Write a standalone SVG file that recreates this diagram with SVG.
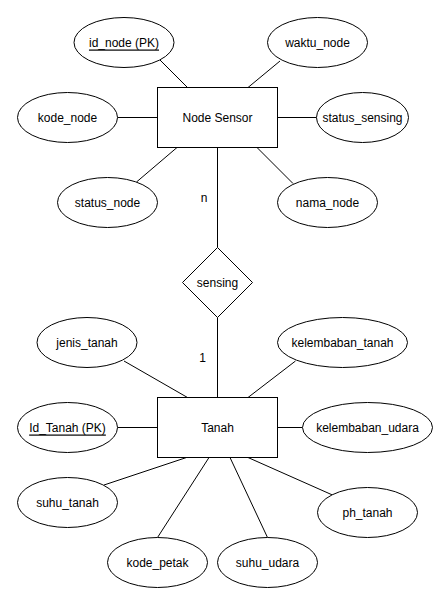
<svg xmlns="http://www.w3.org/2000/svg" width="437" height="592" viewBox="0 0 437 592">
  <style>
    .shape { fill: #ffffff; stroke: #000000; stroke-width: 1; }
    .edge { stroke: #000000; stroke-width: 1; fill: none; }
    text { font-family: "Liberation Sans", Arial, Helvetica, sans-serif; font-size: 12px; fill: #000000; text-anchor: middle; dominant-baseline: central; }
    .pk { text-decoration: underline; }
  </style>
  <rect width="437" height="592" fill="#ffffff"/>

  <!-- connectors -->
  <g id="connectors">
    <line class="edge" x1="160" y1="60" x2="187.5" y2="87.5"/>
    <line class="edge" x1="280" y1="61" x2="248" y2="87.5"/>
    <line class="edge" x1="117.5" y1="117.5" x2="157.5" y2="117.5"/>
    <line class="edge" x1="277.5" y1="117.5" x2="316.5" y2="117.5"/>
    <line class="edge" x1="177" y1="147.5" x2="136.5" y2="182"/>
    <line class="edge" x1="257" y1="147.5" x2="293" y2="183.5"/>
    <line class="edge" x1="217.5" y1="147.5" x2="217.5" y2="247.5"/>
    <line class="edge" x1="217.5" y1="317.5" x2="217.5" y2="397.5"/>
    <line class="edge" x1="124" y1="361" x2="187.5" y2="397.5"/>
    <line class="edge" x1="295.5" y1="361" x2="248" y2="397.5"/>
    <line class="edge" x1="117.5" y1="427.5" x2="157.5" y2="427.5"/>
    <line class="edge" x1="277.5" y1="427.5" x2="302.5" y2="427.5"/>
    <line class="edge" x1="186.5" y1="457.5" x2="104" y2="485"/>
    <line class="edge" x1="209" y1="457.5" x2="157.5" y2="537.5"/>
    <line class="edge" x1="230" y1="457.5" x2="267.5" y2="537.5"/>
    <line class="edge" x1="248" y1="457.5" x2="332.5" y2="495"/>
    <text x="204" y="198">n</text>
    <text x="202.5" y="357.5">1</text>
  </g>

  <!-- entity: Node Sensor -->
  <g id="node-sensor">
    <rect class="shape" x="157.5" y="87.5" width="120" height="60"/>
    <text x="217.5" y="117.5">Node Sensor</text>
  </g>
  <g id="attr-id-node">
    <ellipse class="shape" cx="124" cy="42.5" rx="50" ry="25"/>
    <text class="pk" x="124" y="42.5">id_node (PK)</text>
  </g>
  <g id="attr-waktu-node">
    <ellipse class="shape" cx="317.5" cy="42.5" rx="50" ry="25"/>
    <text x="317.5" y="42.5">waktu_node</text>
  </g>
  <g id="attr-kode-node">
    <ellipse class="shape" cx="67.5" cy="117.5" rx="50" ry="25"/>
    <text x="67.5" y="117.5">kode_node</text>
  </g>
  <g id="attr-status-sensing">
    <ellipse class="shape" cx="362.5" cy="117.5" rx="46" ry="25"/>
    <text x="362.5" y="117.5">status_sensing</text>
  </g>
  <g id="attr-status-node">
    <ellipse class="shape" cx="107.5" cy="202.5" rx="50" ry="25"/>
    <text x="107.5" y="202.5">status_node</text>
  </g>
  <g id="attr-nama-node">
    <ellipse class="shape" cx="327.5" cy="202.5" rx="50" ry="25"/>
    <text x="327.5" y="202.5">nama_node</text>
  </g>

  <!-- relationship -->
  <g id="rel-sensing">
    <polygon class="shape" points="217.5,247.5 252.5,282.5 217.5,317.5 182.5,282.5"/>
    <text x="217.5" y="282.5">sensing</text>
  </g>

  <!-- entity: Tanah -->
  <g id="tanah">
    <rect class="shape" x="157.5" y="397.5" width="120" height="60"/>
    <text x="217.5" y="427.5">Tanah</text>
  </g>
  <g id="attr-jenis-tanah">
    <ellipse class="shape" cx="87" cy="342.5" rx="50" ry="25"/>
    <text x="87" y="342.5">jenis_tanah</text>
  </g>
  <g id="attr-kelembaban-tanah">
    <ellipse class="shape" cx="342.5" cy="342.5" rx="65" ry="25"/>
    <text x="342.5" y="342.5">kelembaban_tanah</text>
  </g>
  <g id="attr-id-tanah">
    <ellipse class="shape" cx="67.5" cy="427.5" rx="50" ry="25"/>
    <text class="pk" x="67.5" y="427.5">Id_Tanah (PK)</text>
  </g>
  <g id="attr-kelembaban-udara">
    <ellipse class="shape" cx="367.5" cy="427.5" rx="65" ry="25"/>
    <text x="367.5" y="427.5">kelembaban_udara</text>
  </g>
  <g id="attr-suhu-tanah">
    <ellipse class="shape" cx="67.5" cy="502.5" rx="50" ry="25"/>
    <text x="67.5" y="502.5">suhu_tanah</text>
  </g>
  <g id="attr-ph-tanah">
    <ellipse class="shape" cx="367.5" cy="512.5" rx="50" ry="25"/>
    <text x="367.5" y="512.5">ph_tanah</text>
  </g>
  <g id="attr-kode-petak">
    <ellipse class="shape" cx="157.5" cy="562.5" rx="50" ry="25"/>
    <text x="157.5" y="562.5">kode_petak</text>
  </g>
  <g id="attr-suhu-udara">
    <ellipse class="shape" cx="267.5" cy="562.5" rx="50" ry="25"/>
    <text x="267.5" y="562.5">suhu_udara</text>
  </g>
</svg>
